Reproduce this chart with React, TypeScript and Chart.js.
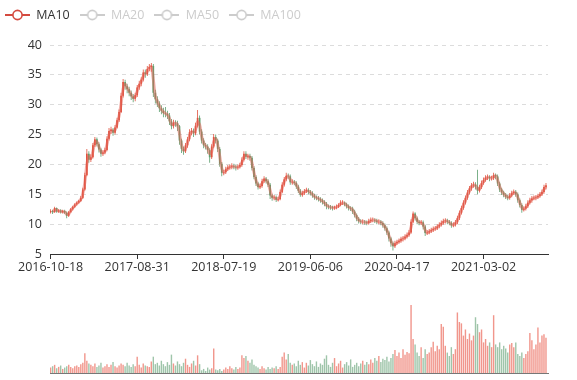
import React, { useEffect, useRef } from 'react';
import { Chart, registerables } from 'chart.js';

Chart.register(...registerables);

// ---- data (one point ≈ 5 trading days) ----
const tickLabels = ['2016-10-18', '2017-08-31', '2018-07-19', '2019-06-06', '2020-04-17', '2021-03-02'];
const TICK_STEP = 43;
const DAYS_PER_POINT = 5;
const firstOpen = 12.0;

const close = [
  12.2, 12.0, 12.7, 12.1, 12.3, 12.0, 12.2, 11.9, 11.4, 12.0,
  12.5, 12.9, 13.3, 13.6, 13.9, 14.4, 15.8, 18.2, 21.8, 20.8,
  21.2, 23.2, 24.2, 23.4, 22.5, 21.8, 22.0, 22.4, 24.3, 25.6,
  25.8, 25.3, 26.2, 27.4, 28.8, 31.5, 33.8, 33.1, 32.6, 32.0,
  31.4, 31.0, 31.6, 32.9, 33.5, 34.2, 35.4, 35.1, 36.0, 36.3,
  36.5, 32.0, 30.9, 30.2, 29.4, 29.0, 28.6, 28.5, 28.2, 27.2,
  26.4, 27.0, 26.9, 26.4, 24.0, 22.6, 22.2, 23.2, 24.2, 25.4,
  25.6, 25.2, 26.5, 27.8, 25.5, 24.0, 23.2, 23.0, 22.4, 21.2,
  23.0, 24.6, 24.0, 22.6, 20.1, 18.6, 18.7, 19.2, 19.5, 19.6,
  19.7, 19.6, 19.5, 19.6, 19.9, 20.8, 21.8, 21.3, 21.4, 21.1,
  19.4, 17.9, 16.8, 16.2, 16.4, 17.2, 17.6, 17.2, 16.6, 14.8,
  14.4, 14.5, 14.1, 14.2, 15.4, 16.6, 17.5, 18.1, 18.0, 17.0,
  17.1, 16.9, 16.3, 15.6, 14.9, 15.2, 15.5, 15.7, 15.4, 15.2,
  14.8, 14.5, 14.4, 14.2, 14.0, 13.7, 13.4, 13.0, 12.9, 12.8,
  12.7, 12.8, 12.9, 13.2, 13.6, 13.6, 13.3, 13.0, 12.7, 12.6,
  12.1, 11.5, 10.9, 10.5, 10.4, 10.4, 10.3, 10.2, 10.5, 10.7,
  10.7, 10.6, 10.4, 10.4, 10.2, 9.8, 9.3, 8.6, 7.6, 6.8,
  6.3, 6.8, 7.0, 7.2, 7.5, 7.6, 7.9, 8.2, 8.6, 10.4,
  11.8, 11.0, 10.4, 10.2, 10.3, 9.6, 8.5, 8.6, 8.8, 9.0,
  9.2, 9.3, 9.6, 9.9, 10.2, 10.5, 10.6, 10.4, 10.2, 9.8,
  9.9, 10.3, 11.0, 11.9, 12.7, 13.6, 14.4, 15.3, 16.0, 16.5,
  16.6, 16.3, 15.6, 16.2, 16.9, 17.4, 17.8, 17.9, 17.7, 17.7,
  18.2, 18.0, 16.8, 15.8, 15.3, 14.9, 14.6, 14.4, 14.8, 15.2,
  15.4, 15.0, 14.0, 13.2, 12.4, 12.6, 13.0, 13.6, 14.0, 14.3,
  14.4, 14.5, 14.7, 15.0, 15.4, 16.2, 16.5,
];

const high = [
  12.5, 12.4, 12.9, 12.8, 12.5, 12.5, 12.4, 12.4, 12.1, 12.2,
  12.7, 13.1, 13.5, 13.8, 14.1, 14.7, 16.1, 18.6, 22.6, 22.2,
  21.7, 23.6, 24.6, 24.5, 23.7, 22.8, 22.4, 22.8, 24.7, 26.1,
  26.3, 26.1, 26.6, 27.8, 29.2, 32.0, 34.3, 34.2, 33.5, 33.0,
  32.4, 31.8, 32.0, 33.3, 34.0, 34.6, 35.9, 35.9, 36.5, 36.8,
  37.0, 36.8, 32.5, 31.4, 30.6, 29.9, 29.5, 29.6, 29.0, 28.6,
  27.6, 27.5, 27.4, 27.3, 26.6, 24.3, 23.0, 23.6, 24.6, 25.9,
  26.1, 26.0, 27.0, 29.1, 28.2, 25.9, 24.4, 23.6, 23.4, 22.7,
  23.4, 25.1, 25.0, 24.3, 22.9, 20.4, 19.1, 19.6, 19.9, 20.0,
  20.2, 20.1, 19.9, 20.0, 20.3, 21.2, 22.2, 22.2, 21.8, 21.8,
  21.4, 19.7, 18.2, 17.1, 16.8, 17.6, 18.0, 17.9, 17.5, 16.9,
  15.1, 14.9, 14.8, 14.6, 15.8, 17.0, 17.9, 18.6, 18.5, 18.3,
  17.5, 17.4, 17.2, 16.6, 15.9, 15.6, 15.9, 16.1, 16.0, 15.7,
  15.5, 15.1, 14.8, 14.7, 14.5, 14.3, 14.0, 13.7, 13.3, 13.2,
  13.1, 13.1, 13.3, 13.5, 14.0, 14.0, 13.8, 13.6, 13.3, 13.0,
  12.9, 12.4, 11.8, 11.2, 10.8, 10.8, 10.7, 10.6, 10.9, 11.1,
  11.1, 11.0, 10.9, 10.8, 10.7, 10.5, 10.1, 9.6, 8.9, 7.9,
  7.1, 7.2, 7.4, 7.6, 7.9, 8.0, 8.3, 8.6, 9.0, 10.8,
  12.1, 12.0, 11.3, 10.7, 10.7, 10.6, 9.9, 9.0, 9.2, 9.4,
  9.6, 9.7, 10.0, 10.3, 10.6, 10.9, 11.0, 10.9, 10.7, 10.5,
  10.3, 10.7, 11.4, 12.3, 13.1, 14.0, 14.8, 15.7, 16.4, 16.9,
  17.1, 17.0, 19.1, 16.6, 17.3, 17.8, 18.2, 18.3, 18.2, 18.1,
  18.6, 18.5, 18.3, 17.1, 16.1, 15.6, 15.2, 14.9, 15.2, 15.6,
  15.8, 15.7, 15.3, 14.3, 13.5, 13.0, 13.4, 14.0, 14.4, 14.7,
  14.8, 14.9, 15.1, 15.4, 15.8, 16.6, 16.9,
];

const low = [
  11.8, 11.7, 11.9, 11.9, 11.9, 11.8, 11.8, 11.7, 11.0, 11.2,
  11.9, 12.3, 12.7, 13.1, 13.4, 13.7, 14.2, 15.6, 18.0, 20.3,
  20.4, 21.0, 22.9, 23.0, 22.0, 21.3, 21.4, 21.7, 22.2, 24.0,
  25.1, 24.8, 25.0, 26.0, 27.1, 28.6, 31.2, 32.5, 31.9, 31.4,
  30.8, 30.4, 30.6, 31.3, 32.5, 33.1, 33.9, 34.5, 34.8, 35.6,
  35.5, 31.3, 30.2, 29.6, 28.8, 28.4, 27.9, 27.9, 27.6, 26.6,
  25.9, 26.0, 26.3, 25.6, 23.3, 21.9, 21.6, 21.9, 22.8, 23.9,
  24.9, 24.6, 24.9, 26.2, 25.0, 23.5, 22.7, 22.5, 21.8, 20.3,
  20.9, 22.7, 23.5, 22.1, 19.6, 18.0, 18.2, 18.4, 18.9, 19.1,
  19.2, 19.2, 19.0, 19.1, 19.3, 19.6, 20.5, 20.9, 20.8, 20.6,
  19.0, 17.5, 16.4, 15.8, 15.9, 16.1, 16.9, 16.8, 16.2, 14.2,
  13.9, 14.0, 13.7, 13.8, 14.0, 15.2, 16.3, 17.2, 17.6, 16.6,
  16.6, 16.5, 15.9, 15.2, 14.6, 14.6, 14.9, 15.2, 15.0, 14.8,
  14.4, 14.1, 14.0, 13.8, 13.6, 13.3, 13.0, 12.5, 12.5, 12.4,
  12.3, 12.4, 12.5, 12.7, 13.0, 13.2, 13.0, 12.6, 12.3, 12.2,
  11.7, 11.1, 10.5, 10.1, 10.0, 10.0, 9.9, 9.8, 9.9, 10.2,
  10.3, 10.2, 10.0, 10.0, 9.8, 9.4, 8.9, 8.2, 7.1, 6.2,
  5.6, 6.0, 6.5, 6.7, 6.9, 7.1, 7.3, 7.6, 7.9, 8.4,
  10.2, 10.6, 10.0, 9.8, 9.9, 9.1, 8.0, 8.2, 8.3, 8.5,
  8.7, 8.9, 9.0, 9.3, 9.6, 9.9, 10.1, 10.0, 9.8, 9.4,
  9.5, 9.6, 10.0, 10.7, 11.6, 12.4, 13.3, 14.1, 15.0, 15.6,
  16.1, 15.8, 15.0, 15.3, 15.9, 16.6, 17.1, 17.4, 17.2, 17.3,
  17.4, 17.5, 16.4, 15.4, 14.9, 14.5, 14.2, 14.0, 14.1, 14.5,
  14.9, 14.6, 13.6, 12.8, 11.9, 12.1, 12.3, 12.7, 13.3, 13.6,
  14.0, 14.0, 14.2, 14.4, 14.7, 15.1, 15.8,
];

const volume = [
  8, 10, 12, 7, 9, 11, 6, 8, 10, 12, 9, 7, 10, 11, 9,
  13, 15, 29, 18, 14,
  12, 10, 14, 9, 11, 15, 8, 10, 13, 9, 12, 16, 10, 8, 11, 14,
  12, 10, 15, 11, 9, 13, 10, 24, 12, 8, 14, 11, 10, 9, 17, 24, 13,
  15, 11, 18, 13, 10, 16, 12, 27, 14, 11, 17, 13, 10, 15, 21, 12, 9, 14, 18, 11, 26, 13,
  4, 6, 3, 8, 5, 7, 36, 5, 4, 6, 3,
  5, 8, 6, 10, 7, 5, 9, 6, 8,
  26, 22, 25, 18, 15, 20, 12, 10,
  8, 6, 10, 7, 5, 9, 6, 8, 7, 10, 6, 9,
  24, 30, 20, 28, 15, 12,
  14, 10, 18, 12, 16, 8, 15, 11, 19, 13, 10, 17, 9, 14, 12, 21, 26,
  12, 9, 15, 22, 10, 14, 18, 8, 13, 16, 11, 20, 9, 12, 15, 10, 14, 18, 12, 16, 13,
  20, 15, 22, 18, 25, 16, 21, 19, 24, 17, 22,
  28, 34, 25, 30, 22, 35, 27, 31, 29,
  100, 50, 42, 30, 25, 38, 22, 35, 28,
  30, 38, 46, 32, 40, 35, 72, 68, 40,
  30, 25, 38, 28, 35, 89,
  75, 73, 55, 64, 50, 58, 48, 55, 82, 72, 60, 64, 45, 50, 40, 45, 38, 85, 42, 38,
  45, 35, 40, 36, 30, 42, 44, 38, 45, 28, 25, 30, 22, 28, 32, 59, 48, 35, 42, 67,
  45, 55, 57, 52,
];

const maNames = ['MA10', 'MA20', 'MA50', 'MA100'];
const maDays = [10, 20, 50, 100];
const maVisible = [true, false, false, false];

// ---- styles ----
const UP = '#e0533f';
const DOWN = '#5b9f6e';
const UP_VOL = 'rgba(232, 80, 64, 0.6)';
const DOWN_VOL = 'rgba(80, 150, 100, 0.55)';
const MA_ICON = '#d44a3f';
const MA_LINE = 'rgba(228, 96, 84, 0.5)';
const HIDDEN_GREY = '#cccccc';
const FONT = { family: "'Open Sans', 'Noto Sans', sans-serif", size: 12.5 };

function movingAverage(values: number[], windowSize: number): (number | null)[] {
  return values.map((_, i) => {
    if (i < windowSize - 1) return null;
    let s = 0;
    for (let k = i - windowSize + 1; k <= i; k++) s += values[k];
    return s / windowSize;
  });
}

function makeIcon(color: string) {
  const c = document.createElement('canvas');
  c.width = 25;
  c.height = 14;
  const g = c.getContext('2d')!;
  g.strokeStyle = color;
  g.lineWidth = 2;
  g.beginPath();
  g.moveTo(0, 7);
  g.lineTo(25, 7);
  g.stroke();
  g.beginPath();
  g.arc(12.5, 7, 4.6, 0, Math.PI * 2);
  g.fillStyle = '#fff';
  g.fill();
  g.lineWidth = 1.6;
  g.stroke();
  return c;
}

export default function App() {
  const priceRef = useRef<HTMLCanvasElement | null>(null);
  const volRef = useRef<HTMLCanvasElement | null>(null);

  useEffect(() => {
    const n = close.length;
    const idx = close.map((_, i) => i);
    const open = close.map((_, i) => (i === 0 ? firstOpen : close[i - 1]));
    const up = close.map((c, i) => c >= open[i]);
    const mas = maDays.map((d) => movingAverage(close, Math.max(1, Math.round(d / DAYS_PER_POINT))));
    const icons = maNames.map((_, k) => makeIcon(maVisible[k] ? MA_ICON : HIDDEN_GREY));
    const xMin = -0.3;
    const xMax = n;

    const priceChart = new Chart(priceRef.current!, {
      type: 'bar',
      data: {
        datasets: [
          ...maNames.map((name, k) => ({
            type: 'line' as const,
            label: name,
            data: mas[k].map((v, i) => ({ x: i, y: v })),
            borderColor: MA_LINE,
            borderWidth: 3,
            pointRadius: 0,
            tension: 0.3,
            hidden: !maVisible[k],
            order: 0,
          })),
          {
            type: 'bar' as const,
            label: 'K',
            data: idx.map((i) => ({ x: i, y: [open[i], close[i]] })),
            backgroundColor: up.map((u) => (u ? UP : DOWN)),
            borderWidth: 0,
            barPercentage: 0.85,
            categoryPercentage: 1,
            grouped: false,
            order: 1,
          },
          {
            type: 'bar' as const,
            label: 'wick',
            data: idx.map((i) => ({ x: i, y: [low[i], high[i]] })),
            backgroundColor: up.map((u) => (u ? UP : DOWN)),
            borderWidth: 0,
            barPercentage: 0.4,
            categoryPercentage: 1,
            grouped: false,
            order: 2,
          },
        ] as any,
      },
      options: {
        animation: false,
        responsive: false,
        events: [],
        layout: { padding: { left: -5, right: 29, top: -1.25, bottom: 0 } },
        font: FONT as any,
        plugins: {
          tooltip: { enabled: false },
          title: { display: false },
          subtitle: {
            display: true,
            text: '',
            weight: 500,
            padding: 0,
            font: { size: 10, lineHeight: '13.75px' },
          } as any,
          legend: {
            display: true,
            position: 'top',
            align: 'start',
            labels: {
              usePointStyle: true,
              pointStyleWidth: 25,
              padding: 10,
              font: FONT as any,
              color: '#333',
              generateLabels: () =>
                maNames.map((name, k) => ({
                  text: name,
                  datasetIndex: k,
                  hidden: false,
                  fontColor: maVisible[k] ? '#333' : HIDDEN_GREY,
                  pointStyle: icons[k] as any,
                  lineWidth: 0,
                  fillStyle: 'transparent',
                  strokeStyle: 'transparent',
                })) as any,
            },
          },
        },
        scales: {
          x: {
            type: 'linear',
            min: xMin,
            max: xMax,
            offset: false,
            afterBuildTicks: (scale: any) => {
              scale.ticks = tickLabels.map((_, k) => ({ value: k * TICK_STEP }));
            },
            afterFit: (scale: any) => {
              scale.height = 31;
            },
            ticks: {
              autoSkip: false,
              maxRotation: 0,
              minRotation: 0,
              padding: 1,
              color: '#333',
              font: FONT as any,
              callback: (v: any) => {
                const k = Math.round(Number(v) / TICK_STEP);
                return tickLabels[k] ?? '';
              },
            },
            grid: {
              offset: false,
              drawOnChartArea: false,
              drawTicks: true,
              tickLength: 5,
              color: '#333',
            },
            border: { display: true, color: '#333', width: 1 },
          },
          y: {
            type: 'linear',
            min: 5,
            max: 40,
            beginAtZero: false,
            afterFit: (scale: any) => {
              scale.width = 55;
            },
            ticks: { stepSize: 5, padding: 8, color: '#333', font: FONT as any },
            grid: {
              drawTicks: false,
              color: (ctx: any) => (ctx.tick && ctx.tick.value === 5 ? 'rgba(0,0,0,0)' : '#dcdcdc'),
            },
            border: { display: false, dash: [4, 4] },
          },
        },
      } as any,
    });

    const volMax = Math.max(...volume);
    const volChart = new Chart(volRef.current!, {
      type: 'bar',
      data: {
        datasets: [
          {
            label: 'Volume',
            data: idx.map((i) => ({ x: i, y: volume[i] })),
            backgroundColor: up.map((u) => (u ? UP_VOL : DOWN_VOL)),
            borderWidth: 0,
            barPercentage: 0.7,
            categoryPercentage: 1,
          },
        ] as any,
      },
      options: {
        animation: false,
        responsive: false,
        events: [],
        layout: { padding: { left: 50, right: 29, top: 20, bottom: 7 } },
        plugins: { legend: { display: false }, tooltip: { enabled: false } },
        scales: {
          x: {
            type: 'linear',
            min: xMin,
            max: xMax,
            offset: false,
            afterFit: (scale: any) => {
              scale.height = 0;
            },
            ticks: { display: false },
            grid: { display: false, drawTicks: false, offset: false },
            border: { display: true, color: '#777', width: 1 },
          },
          y: {
            display: false,
            min: 0,
            max: volMax,
          },
        },
      } as any,
    });

    return () => {
      priceChart.destroy();
      volChart.destroy();
    };
  }, []);

  return (
    <div style={{ position: 'fixed', left: 0, top: 0, width: 577, height: 380, background: '#fff' }}>
      <canvas
        ref={priceRef}
        width={577}
        height={285}
        style={{ position: 'absolute', left: 0, top: 0, width: 577, height: 285 }}
      />
      <canvas
        ref={volRef}
        width={577}
        height={95}
        style={{ position: 'absolute', left: 0, top: 285, width: 577, height: 95 }}
      />
    </div>
  );
}
